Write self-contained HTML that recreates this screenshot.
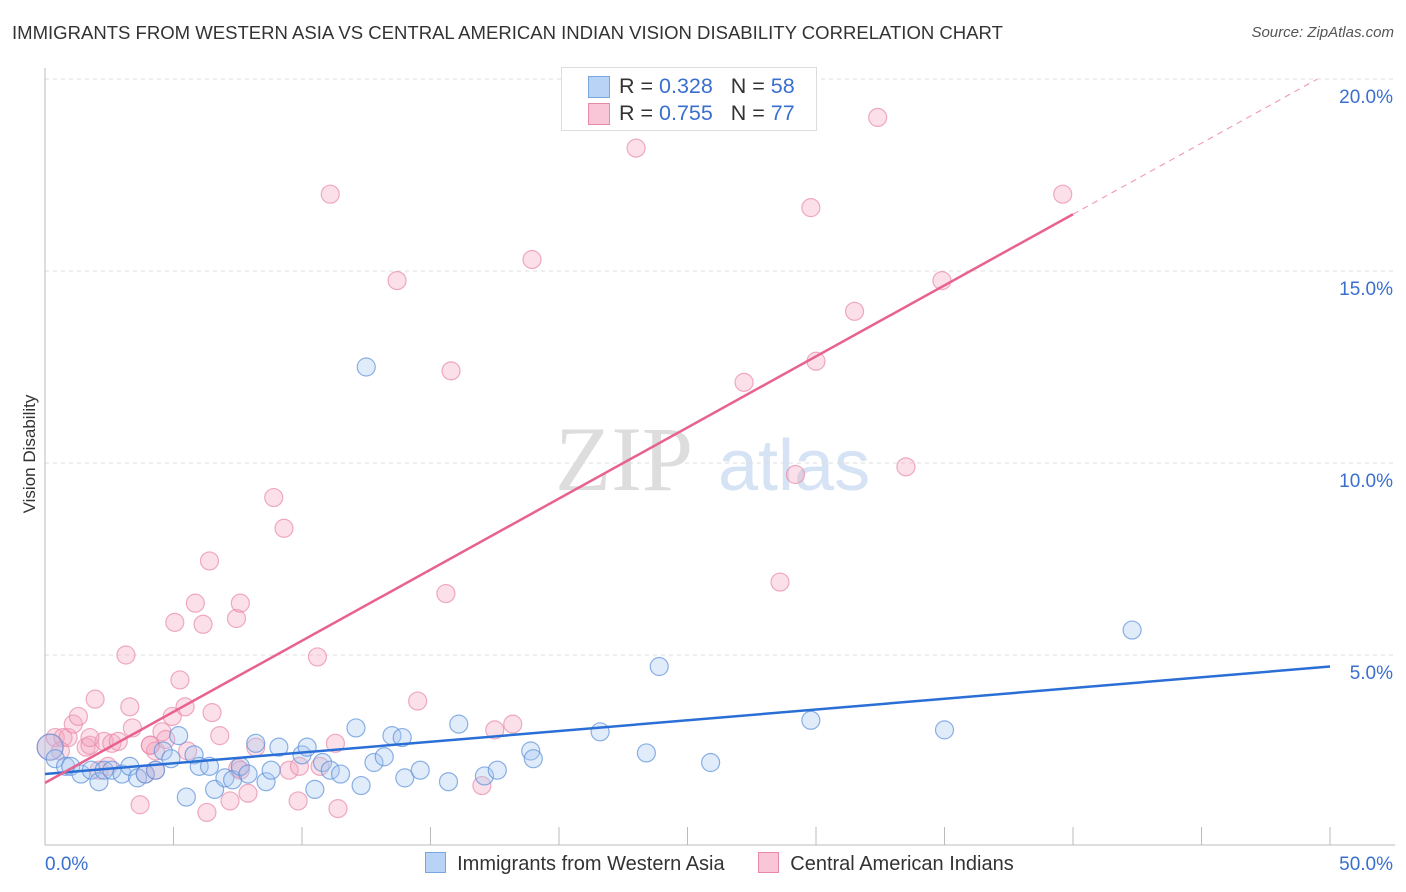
<!DOCTYPE html>
<html><head><meta charset="utf-8"><style>
body{margin:0;background:#fff;font-family:"Liberation Sans",sans-serif;}
#wrap{position:relative;width:1406px;height:892px;overflow:hidden;}
.t{position:absolute;white-space:nowrap;}
</style></head><body>
<div id="wrap">
<div class="t" style="left:12px;top:22px;font-size:18.55px;color:#333;">IMMIGRANTS FROM WESTERN ASIA VS CENTRAL AMERICAN INDIAN VISION DISABILITY CORRELATION CHART</div>
<div class="t" style="right:12px;top:24px;font-size:15px;color:#555;font-style:italic;">Source: ZipAtlas.com</div>
<div class="t" style="left:-30px;top:444px;font-size:17px;color:#333;transform:rotate(-90deg);width:120px;text-align:center;">Vision Disability</div>
<svg id="svg" width="1406" height="892" style="position:absolute;left:0;top:0"></svg>
<div style="position:absolute;left:561px;top:67px;width:254px;height:62px;border:1px solid #ddd;background:#fff;font-size:21.5px;">
 <div style="position:absolute;left:26px;top:8px;width:20px;height:20px;background:#b8d3f5;border:1px solid #7aa6e0"></div>
 <div class="t" style="left:57px;top:6px;color:#333">R = <span style="color:#3a6fd0">0.328</span>&nbsp;&nbsp;&nbsp;N = <span style="color:#3a6fd0">58</span></div>
 <div style="position:absolute;left:26px;top:35px;width:20px;height:20px;background:#f8c6d6;border:1px solid #e889a8"></div>
 <div class="t" style="left:57px;top:33px;color:#333">R = <span style="color:#3a6fd0">0.755</span>&nbsp;&nbsp;&nbsp;N = <span style="color:#3a6fd0">77</span></div>
</div>
<div style="position:absolute;left:425px;top:852px;font-size:20px;color:#333;">
 <span style="display:inline-block;width:19px;height:19px;background:#b8d3f5;border:1px solid #7aa6e0;vertical-align:-3px"></span>&nbsp; Immigrants from Western Asia
 <span style="display:inline-block;width:19px;height:19px;background:#f8c6d6;border:1px solid #e889a8;vertical-align:-3px;margin-left:28px"></span>&nbsp; Central American Indians
</div>
</div>
<script>
const xTicks=[0,50];
const yTicks=[5,10,15,20];
const blueX=[0.2,0.4,0.8,1,1.4,1.8,2.1,2.3,2.6,3,3.3,3.6,3.9,4.3,4.6,4.9,5.2,5.5,5.8,6.0,6.4,6.6,7.0,7.3,7.6,7.9,8.2,8.6,8.8,9.1,10,10.2,10.5,10.8,11.1,11.5,12.1,12.3,12.8,13.2,13.5,13.9,14.0,14.6,15.7,16.1,17.1,17.6,18.9,19.0,21.6,23.4,23.9,25.9,29.8,35.0,42.3,12.5];
const blueY=[2.6,2.3,2.1,2.1,1.9,2.0,1.7,2.0,2.0,1.9,2.1,1.8,1.9,2.0,2.5,2.3,2.9,1.3,2.4,2.1,2.1,1.5,1.8,1.75,2.1,1.9,2.7,1.7,2.0,2.6,2.4,2.6,1.5,2.2,2.0,1.9,3.1,1.6,2.2,2.35,2.9,2.85,1.8,2.0,1.7,3.2,1.85,2.0,2.5,2.3,3.0,2.45,4.7,2.2,3.3,3.05,5.65,12.5];
const pinkX=[0.2,0.4,0.7,0.9,1.1,1.3,1.6,1.95,1.75,2.3,2.45,2.6,2.85,3.15,3.3,3.4,3.7,3.9,4.1,4.3,4.55,4.7,4.95,5.25,5.45,5.55,5.85,5.05,6.15,6.4,6.5,6.8,7.2,7.45,7.6,7.5,7.9,8.2,8.9,9.3,9.5,9.85,9.9,10.6,11.1,11.4,11.3,13.7,14.5,15.6,15.8,17.0,17.5,18.2,18.95,23.0,27.2,28.6,29.2,29.8,30.0,31.5,32.4,33.5,34.9,39.6,6.3,4.1,1.75,0.6,2.1,4.3,7.6,10.7];
const pinkY=[2.6,2.85,2.85,2.85,3.2,3.4,2.6,3.85,2.65,2.75,2.1,2.7,2.75,5.0,3.65,3.1,1.1,1.9,2.65,2.5,3.0,2.8,3.4,4.35,3.65,2.5,6.35,5.85,5.8,7.45,3.5,2.9,1.2,5.95,6.35,2.05,1.4,2.6,9.1,8.3,2.0,1.2,2.1,4.95,17.0,1.0,2.7,14.75,3.8,6.6,12.4,1.6,3.05,3.2,15.3,18.2,12.1,6.9,9.7,16.65,12.65,13.95,19.0,9.9,14.75,17.0,0.9,2.65,2.85,2.5,2.0,2.0,2.0,2.1];
const blueFit=[1.9,4.7];
const pinkFit=[1.67,20.18];
const X0=45,X1=1330,Y0=847,PY=38.4;
const sx=v=>X0+(X1-X0)*v/50, sy=v=>Y0-v*PY;
const svg=document.getElementById('svg');const NS='http://www.w3.org/2000/svg';
function el(t,a){const e=document.createElementNS(NS,t);for(const k in a)e.setAttribute(k,a[k]);svg.appendChild(e);return e;}
const wm=el('text',{x:555,y:490,'font-size':92,fill:'#ddd','font-family':'Liberation Serif'});wm.textContent='ZIP';


const wm2=el('text',{x:718,y:490,'font-size':72,fill:'#d5e3f5','font-family':'Liberation Sans'});wm2.textContent='atlas';


yTicks.forEach(v=>{const g=el('line',{x1:X0,x2:1395,y1:sy(v),y2:sy(v),stroke:'#ddd','stroke-dasharray':'4,4'});


const t=el('text',{x:1393,y:sy(v)+24,'text-anchor':'end','font-size':19,fill:'#3a6fd0'});t.textContent=v.toFixed(1)+'%';

});
el('line',{x1:X0,x2:X0,y1:68,y2:845,stroke:'#bbb'});
el('line',{x1:X0,x2:1395,y1:845,y2:845,stroke:'#bbb'});
for(let i=1;i<=10;i++){const tk=el('line',{x1:sx(i*5),x2:sx(i*5),y1:827,y2:845,stroke:'#bbb'});

}
xTicks.forEach((v,i)=>{const t=el('text',{x:i?1393:45,y:870,'text-anchor':i?'end':'start','font-size':19,fill:'#3a6fd0'});t.textContent=v.toFixed(1)+'%';

});
function pts(xs,ys,fill,stroke,name){xs.forEach((x,i)=>{const c=el('circle',{cx:sx(x),cy:sy(ys[i]),r:i==0?13:9,fill:fill,'fill-opacity':0.35,stroke:stroke,'stroke-opacity':0.7,'stroke-width':1.2});

});}
pts(pinkX,pinkY,'#f4a6bf','#e889a8','pink-point');
pts(blueX,blueY,'#a8c8f0','#5b90da','blue-point');
const bl=el('line',{x1:sx(0),y1:sy(blueFit[0]),x2:sx(50),y2:sy(blueFit[1]),stroke:'#2a6fd6','stroke-width':2.5});


const ps=v=>pinkFit[0]+(pinkFit[1]-pinkFit[0])*v/50;
const xEnd=Math.min(50,(20-pinkFit[0])/(pinkFit[1]-pinkFit[0])*50);
const pl=el('line',{x1:sx(0),y1:sy(ps(0)),x2:sx(40),y2:sy(ps(40)),stroke:'#e8628f','stroke-width':2.5});


const pd=el('line',{x1:sx(40),y1:sy(ps(40)),x2:sx(xEnd),y2:sy(ps(xEnd)),stroke:'#f0a0b8','stroke-width':1.2,'stroke-dasharray':'6,5'});


</script>
</body></html>
